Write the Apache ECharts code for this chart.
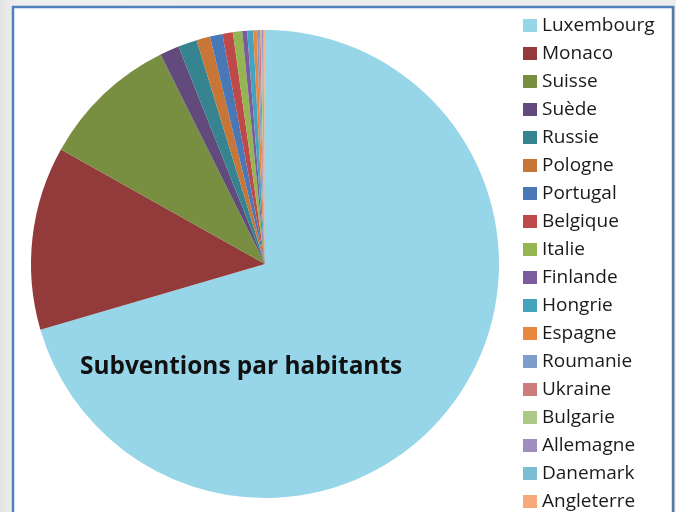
<!DOCTYPE html>
<html>
<head>
<meta charset="utf-8">
<script src="https://cdn.jsdelivr.net/npm/echarts@6/dist/echarts.min.js"></script>
<style>
html,body{margin:0;padding:0;background:#fff;}
#chart{width:676px;height:512px;}
</style>
</head>
<body>
<div id="chart"></div>
<script>
const categories = ['Luxembourg','Monaco','Suisse','Suède','Russie','Pologne','Portugal','Belgique','Italie','Finlande','Hongrie','Espagne','Roumanie','Ukraine','Bulgarie','Allemagne','Danemark','Angleterre'];
const values = [253.7,45.6,34.2,4.8,4.7,3.4,3.1,2.6,2.3,1.2,1.5,0.9,0.5,0.4,0.35,0.3,0.25,0.2];
const colors = ['#97D6E9','#923B3A','#788F42','#624A7C','#35848F','#C87638','#4A78B6','#BD4A48','#94B552','#7A5C9E','#45A3BE','#E8873F','#7E9DCC','#CD7C7C','#ADC987','#9F8DBD','#7DBDD3','#F7A97A'];
const titleText = 'Subventions par habitants';

const chart = echarts.init(document.getElementById('chart'));
chart.setOption({
  animation: false,
  color: colors,
  graphic: [
    {type:'rect', z:-10, shape:{x:0,y:0,width:676,height:512}, style:{fill:new echarts.graphic.LinearGradient(0,0,1,0,[{offset:0,color:'#e2e2e2'},{offset:0.02,color:'#efefef'},{offset:1,color:'#ececec'}])}},
    {type:'rect', z:-9, shape:{x:13,y:7,width:660,height:520}, style:{fill:'#ffffff', stroke:'#4F81BD', lineWidth:2.5}},
    {type:'line', z:-8, shape:{x1:673.5,y1:7,x2:673.5,y2:512}, style:{stroke:'#707070', lineWidth:1.5}},
    {type:'text', z:10, x:80, y:367, style:{text:titleText, font:'bold 24.4px "Open Sans"', fill:'#111', textVerticalAlign:'middle'}}
  ],
  legend: {
    orient:'vertical', left:523, top:16, padding:0, height:600, width:150,
    itemWidth:14, itemHeight:13, itemGap:9,
    icon:'rect',
    textStyle:{fontFamily:'Open Sans', fontSize:19, lineHeight:19, color:'#1a1a1a', padding:[0,0,0,0]},
    data: categories
  },
  series: [{
    type:'pie',
    center:[265,264],
    radius:[0,234],
    startAngle:90,
    clockwise:true,
    avoidLabelOverlap:false,
    label:{show:false},
    labelLine:{show:false},
    emphasis:{disabled:true},
    itemStyle:{borderWidth:0},
    data: categories.map((c,i)=>({name:c, value:values[i]}))
  }]
});
</script>
</body>
</html>
